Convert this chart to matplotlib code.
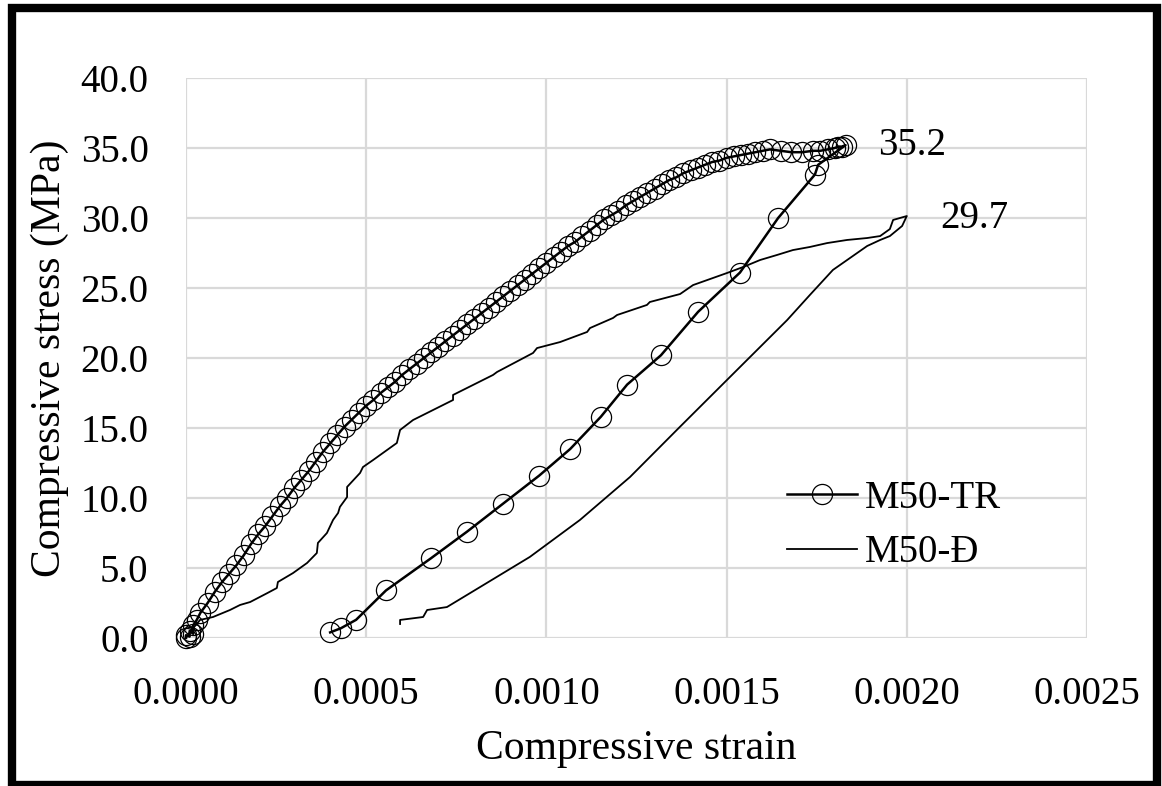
import matplotlib.pyplot as plt
from matplotlib.patches import Rectangle

plt.rcParams['font.family'] = ['Liberation Serif', 'DejaVu Serif']

# M50-TR : loading branch then unloading branch (strain, MPa)
tr_strain = [0.0, 0.0, 0.00001, 0.00001, 0.00002, 0.00002, 0.00003, 0.00004,
             0.00006, 0.00008, 0.00010, 0.00012, 0.00014, 0.00016, 0.00018,
             0.00020, 0.00022, 0.00024, 0.00026, 0.00028, 0.00030, 0.00032,
             0.00034, 0.00036, 0.00038, 0.00040, 0.00042, 0.00044, 0.00046,
             0.00048, 0.00050, 0.00052, 0.00054, 0.00056, 0.00058, 0.00060,
             0.00062, 0.00064, 0.00066, 0.00068, 0.00070, 0.00072, 0.00074,
             0.00076, 0.00078, 0.00080, 0.00082, 0.00084, 0.00086, 0.00088,
             0.00090, 0.00092, 0.00094, 0.00096, 0.00098, 0.00100, 0.00102,
             0.00104, 0.00106, 0.00108, 0.00110, 0.00112, 0.00114, 0.00116,
             0.00118, 0.00120, 0.00122, 0.00124, 0.00126, 0.00128, 0.00130,
             0.00132, 0.00134, 0.00136, 0.00138, 0.00140, 0.00142, 0.00144,
             0.00146, 0.00148, 0.00150, 0.00152, 0.00154, 0.00156, 0.00158,
             0.00160, 0.00162, 0.00165, 0.00168, 0.00171, 0.00174, 0.00176,
             0.00178, 0.00180, 0.00181, 0.00182, 0.00183,
             0.001754, 0.001745, 0.001643, 0.001537, 0.001421, 0.001318,
             0.001224, 0.001151, 0.001066, 0.00098, 0.00088, 0.00078,
             0.00068, 0.000555, 0.000472, 0.00043, 0.0004]
tr_stress = [0.0, 0.2, 0.1, 0.5, 0.3, 0.9, 1.3, 1.8,
             2.5, 3.3, 4.0, 4.6, 5.2, 5.9, 6.7,
             7.4, 8.0, 8.7, 9.4, 10.0, 10.7, 11.3,
             11.9, 12.6, 13.3, 13.9, 14.5, 15.1, 15.6,
             16.1, 16.6, 17.0, 17.5, 17.9, 18.3, 18.8,
             19.2, 19.6, 20.0, 20.4, 20.8, 21.2, 21.6,
             22.0, 22.4, 22.8, 23.2, 23.6, 24.0, 24.4,
             24.8, 25.2, 25.6, 26.0, 26.4, 26.8, 27.2,
             27.6, 28.0, 28.3, 28.7, 29.1, 29.5, 29.9,
             30.2, 30.5, 30.9, 31.2, 31.5, 31.8, 32.1,
             32.4, 32.7, 32.9, 33.2, 33.4, 33.6, 33.8,
             34.0, 34.1, 34.3, 34.4, 34.5, 34.6, 34.7,
             34.8, 34.9, 34.8, 34.7, 34.7, 34.8, 34.8,
             34.9, 35.0, 35.1, 35.1, 35.2,
             33.8, 33.1, 30.0, 26.1, 23.3, 20.2,
             18.1, 15.8, 13.5, 11.6, 9.6, 7.6,
             5.7, 3.4, 1.3, 0.7, 0.4]

# M50-Đ
d_strain = [0.0, 0.000011, 0.000039, 0.000075, 0.000122, 0.00015, 0.000178,
            0.000225, 0.000252, 0.000255, 0.000297, 0.000336, 0.000363,
            0.000366, 0.000391, 0.000408, 0.000422, 0.000427, 0.000447,
            0.000447, 0.000483, 0.000491, 0.000519, 0.000585, 0.000594,
            0.00063, 0.000741, 0.000741, 0.000852, 0.000863, 0.000963,
            0.000974, 0.001038, 0.001113, 0.001121, 0.001185, 0.001196,
            0.001279, 0.001287, 0.001371, 0.001407, 0.001501, 0.001546,
            0.001593, 0.00164, 0.001684, 0.001731, 0.001779, 0.001834,
            0.00189, 0.001926, 0.001953, 0.001962, 0.002, 0.001987,
            0.001953, 0.001926, 0.00189, 0.001795, 0.001731, 0.001668,
            0.001501, 0.00137, 0.001232, 0.001093, 0.000954, 0.000816,
            0.000724, 0.000669, 0.000658, 0.000594, 0.000594]
d_stress = [0.0, 0.43, 1.29, 1.5, 2.0, 2.36, 2.57,
            3.2, 3.57, 4.0, 4.64, 5.36, 6.07,
            6.79, 7.5, 8.43, 8.93, 9.36, 10.07,
            10.79, 11.79, 12.21, 12.71, 13.93, 14.86,
            15.57, 17.0, 17.36, 18.79, 19.0, 20.36,
            20.71, 21.14, 21.86, 22.14, 22.86, 23.07,
            23.79, 24.0, 24.57, 25.21, 26.07, 26.5,
            27.0, 27.36, 27.71, 27.93, 28.21, 28.43,
            28.57, 28.71, 29.21, 29.86, 30.14, 29.43,
            28.71, 28.43, 28.0, 26.29, 24.5, 22.71,
            18.43, 15.07, 11.5, 8.43, 5.79, 3.64,
            2.21, 2.0, 1.5, 1.29, 1.0]

peak_labels = ['35.2', '29.7']
peak_pos = [(0.00192, 35.2), (0.002092, 30.0)]

xticks = [0.0, 0.0005, 0.0010, 0.0015, 0.0020, 0.0025]
yticks = [0, 5, 10, 15, 20, 25, 30, 35, 40]

fig = plt.figure(figsize=(11.62, 7.86), dpi=100)
ax = fig.add_axes([186/1162, 148/786, 901/1162, 560/786])

ax.plot(tr_strain, tr_stress, color='black', lw=1.8, marker='o', ms=14.5,
        mfc='none', mec='black', mew=0.9, label='M50-TR', clip_on=False, zorder=3)
ax.plot(d_strain, d_stress, color='black', lw=1.3, label='M50-Đ', zorder=2)

for lab, (px, py) in zip(peak_labels, peak_pos):
    ax.text(px, py, lab, fontsize=28, ha='left', va='center')

ax.set_xlim(0, 0.0025)
ax.set_ylim(0, 40)
ax.set_xticks(xticks)
ax.set_yticks(yticks)
ax.set_xticklabels(['%.4f' % v for v in xticks])
ax.set_yticklabels(['%.1f' % v for v in yticks])
ax.tick_params(axis='y', length=0, labelsize=28, pad=27)
ax.tick_params(axis='x', length=0, labelsize=28, pad=27)
ax.grid(True, color='#d9d9d9', lw=1.6)
ax.set_axisbelow(True)
for s in ax.spines.values():
    s.set_visible(False)

ax.set_xlabel('Compressive strain', fontsize=30, labelpad=12)
ax.set_ylabel('Compressive stress (MPa)', fontsize=30, labelpad=8)

ax.legend(loc='upper left', bbox_to_anchor=(787/1162, 306/786),
          bbox_transform=fig.transFigure, frameon=False, fontsize=28,
          numpoints=1, handlelength=1.8, handletextpad=0.2,
          labelspacing=0.45, borderpad=0, borderaxespad=0)

# outer black frame
fig.patches.append(Rectangle((12/1162, 1/786), 1145/1162, 777/786,
                             transform=fig.transFigure, fill=False,
                             edgecolor='black', lw=6))

fig.savefig('out.png', dpi=100)
